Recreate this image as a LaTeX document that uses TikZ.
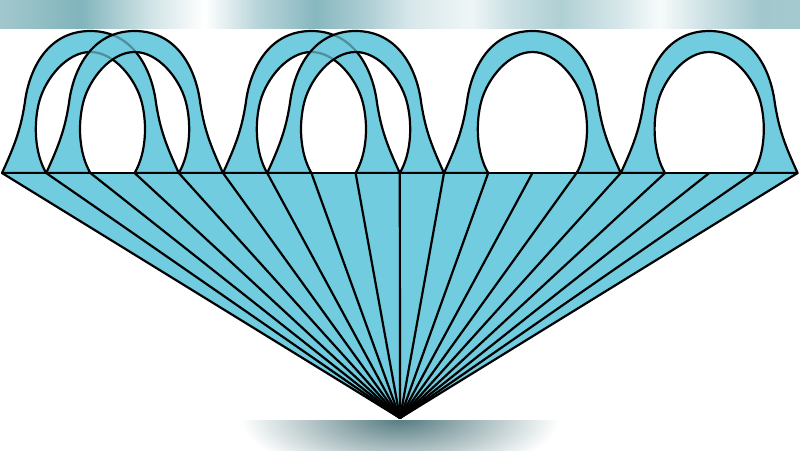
\documentclass[tikz,border=0pt]{standalone}
\definecolor{archblue}{RGB}{112,204,222}
\definecolor{blurteal}{RGB}{122,176,184}
\definecolor{blobgray}{RGB}{84,122,128}

\pgfdeclarehorizontalshading{topblur}{100bp}{
  color(0bp)=(blurteal!70!white); color(25bp)=(blurteal!70!white);
  color(30bp)=(blurteal!95!white); color(34.4bp)=(blurteal!35!white);
  color(37.8bp)=(white); color(41.2bp)=(blurteal!55!white);
  color(44.7bp)=(blurteal!90!white); color(48.1bp)=(blurteal!60!white);
  color(50.6bp)=(blurteal!30!white); color(54.4bp)=(blurteal!12!white);
  color(56.9bp)=(blurteal!40!white); color(60bp)=(blurteal!60!white);
  color(63.8bp)=(blurteal!30!white); color(66.2bp)=(blurteal!6!white);
  color(68.8bp)=(blurteal!35!white); color(72.5bp)=(blurteal!70!white);
  color(75bp)=(blurteal!68!white); color(100bp)=(blurteal!68!white)}

% one arch, centred on its own foot line
\newcommand{\archpath}{(-88.4,0) .. controls (-74.6,-30) and (-69.6,-45) .. (-65.6,-70)
  .. controls (-62,-100) and (-45,-142) .. (0,-142)
  .. controls (45,-142) and (62,-100) .. (65.6,-70)
  .. controls (69.6,-45) and (74.6,-30) .. (88.4,0) -- (44.2,0)
  .. controls (56,-20) and (57,-50) .. (51,-72)
  .. controls (45,-94) and (24,-121) .. (0,-121)
  .. controls (-24,-121) and (-45,-94) .. (-51,-72)
  .. controls (-57,-50) and (-56,-20) .. (-44.2,0) -- cycle}
\newcommand{\arch}[2]{\path[#1,shift={(#2,173)}] \archpath;}

\begin{document}
\begin{tikzpicture}[x=1pt,y=-1pt,
    edge/.style={line width=2.2pt,line join=round},
    band/.style={fill=archblue,draw=black,edge}]
  \useasboundingbox (0,0) rectangle (800,450);

  % blurred strips
  \shade[shading=topblur] (0,0) rectangle (800,28);
  \begin{scope}
    \clip (0,420) rectangle (800,450);
    \shade[inner color=blobgray,outer color=white] (400,418) ellipse (160 and 60);
  \end{scope}

  \coordinate (apex) at (400,418);
  \foreach \i in {0,...,18}
    \coordinate (p\i) at (2+44.2*\i,173);

  % overlapping pairs, the right arch lies on top
  \foreach \a/\b in {90.4/134.6,311.4/355.6}{
    \arch{fill=archblue}{\a}
    \arch{fill=archblue}{\b}
    \arch{edge,draw}{\a}
    \arch{fill=archblue,fill opacity=0.7}{\b}
    \arch{edge,draw}{\b}
  }
  \foreach \c in {532.4,709.2}{
    \arch{band}{\c}
  }

  % the fan
  \fill[archblue] (p0) -- (p18) -- (apex) -- cycle;
  \foreach \i in {0,...,18}
    \draw[edge] (apex) -- (p\i);
  \draw[edge] (p0) -- (p18);
\end{tikzpicture}
\end{document}
